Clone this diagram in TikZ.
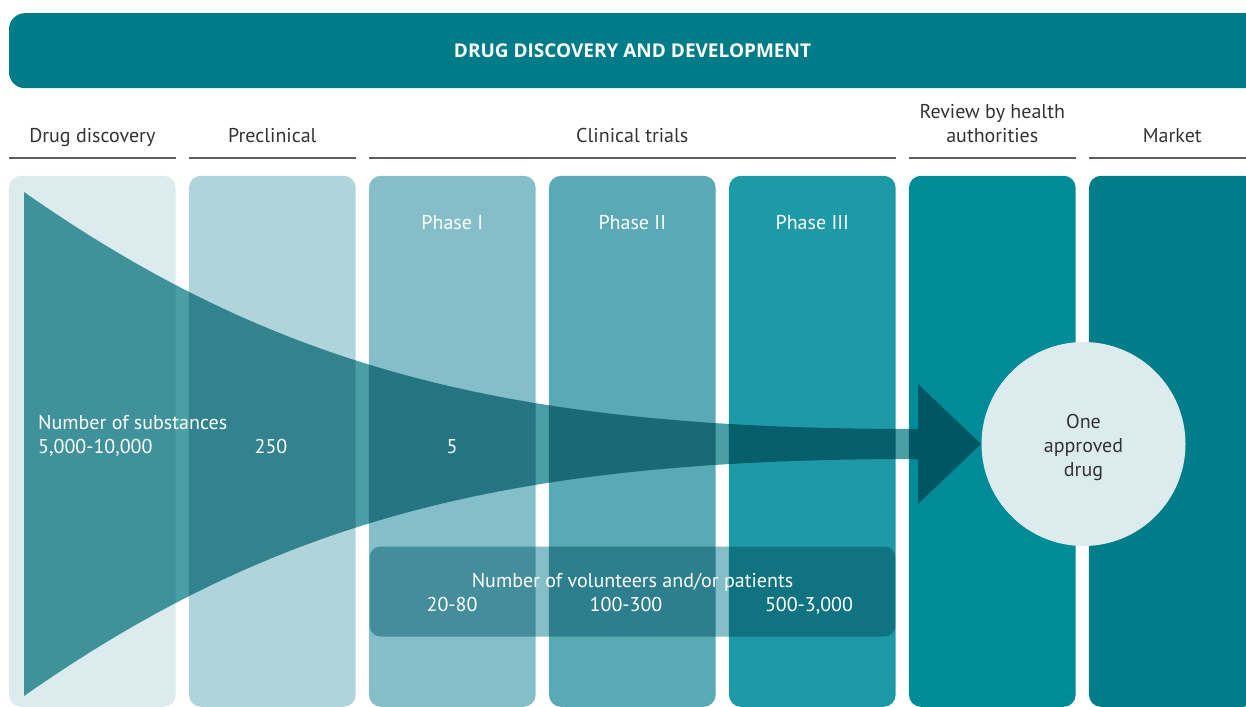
\documentclass[tikz,border=0pt]{standalone}
\usepackage{fontspec}
\setmainfont{PT Sans}
\newfontfamily\titlefont{Open Sans}
\usetikzlibrary{positioning}

\definecolor{banner}{HTML}{007C89}
\definecolor{stageA}{HTML}{DCEBEE}
\definecolor{stageB}{HTML}{AFD4DB}
\definecolor{stageC}{HTML}{84BEC8}
\definecolor{stageD}{HTML}{5AAAB5}
\definecolor{stageE}{HTML}{1E9AA7}
\definecolor{stageF}{HTML}{008B99}
\definecolor{stageG}{HTML}{007D89}
\definecolor{funnelc}{HTML}{4A9EA6}
\definecolor{crowdc}{HTML}{84BFC8}
\definecolor{inkgray}{HTML}{333333}
\definecolor{rulegray}{HTML}{5E5E5E}

\tikzset{
  stage/.style={rectangle, rounded corners=12pt, minimum width=166.7pt,
    minimum height=531pt, inner sep=0pt},
  multi/.style={font=\fontsize{20}{24}\selectfont, align=center},
  txt/.style={font=\fontsize{20}{24}\selectfont, text height=14pt, text depth=4pt},
  head/.style={txt, text=inkgray},
  rulebar/.style={draw=rulegray, line width=1.8pt},
  light/.style={txt, text=white, inner sep=1pt},
}

\begin{document}
\begin{tikzpicture}[x=1pt, y=-1pt]
    \useasboundingbox (0,0) rectangle (1246,706);
    \clip (0,0) rectangle (1246,706);

    % banner
    \node[fill=banner, rounded corners=16pt, minimum width=1260pt, minimum height=75pt,
      inner sep=0pt] (top) at (639,50.7) {};
    \node[text=white, font=\titlefont\bfseries\fontsize{19}{22}\selectfont]
      (title) at (632.5,50.5) {DRUG DISCOVERY AND DEVELOPMENT};

    % stages
    \node[stage, fill=stageA] (disc) at (92.3,441.3) {};
    \node[stage, fill=stageB] (pre)  at (272.3,441.3) {};
    \node[stage, fill=stageC] (ph1)  at (452.3,441.3) {};
    \node[stage, fill=stageD] (ph2)  at (632.3,441.3) {};
    \node[stage, fill=stageE] (ph3)  at (812.3,441.3) {};
    \node[stage, fill=stageF] (rev)  at (992.3,441.3) {};
    \node[stage, fill=stageG] (mkt)  at (1172.3,441.3) {};

    % header rules and labels
    \foreach \s in {disc,pre,rev,mkt}
      \draw[rulebar] ([yshift=18pt]\s.north west) -- ([yshift=18pt]\s.north east);
    \draw[rulebar] ([yshift=18pt]ph1.north west) -- ([yshift=18pt]ph3.north east);

    \node[head] (hdisc) at (92.3,137) {Drug discovery};
    \node[head] (hpre)  at (272.3,137) {Preclinical};
    \node[head] (hclin) at (632.3,137) {Clinical trials};
    \node[multi, text=inkgray] (hrev) at (992.3,124) {Review by health\\authorities};
    \node[head] (hmkt)  at (1172.3,137) {Market};

    \node[light] (lph1) at ([yshift=-49pt]ph1.north) {Phase I};
    \node[light] (lph2) at ([yshift=-49pt]ph2.north) {Phase II};
    \node[light] (lph3) at ([yshift=-49pt]ph3.north) {Phase III};

    % funnel and volunteers band
    \begin{scope}[blend mode=multiply]
      \fill[funnelc] (24,192) .. controls (284,374) and (520,429) .. (918,429)
        -- (918,384) -- (981,444) -- (918,504) -- (918,459)
        .. controls (520,459) and (284,514) .. (24,696) -- cycle;
      \node[fill=crowdc, rounded corners=11pt, minimum width=525.7pt,
        minimum height=90pt, inner sep=0pt] (crowd) at (632.5,591.5) {};
    \end{scope}

    \node[light, anchor=west] (nsub) at (37,424) {Number of substances};
    \node[light, anchor=west] (nA)   at (37,448) {5,000-10,000};
    \node[light] (nB) at (271,448) {250};
    \node[light] (nC) at (452,448) {5};

    \node[light] (ncrowd) at (632.5,582) {Number of volunteers and/or patients};
    \node[light] (vA) at (452,606) {20-80};
    \node[light] (vB) at (626,606) {100-300};
    \node[light] (vC) at (809,606) {500-3,000};

    % result
    \node[circle, fill=stageA, minimum size=204pt, inner sep=0pt] (drug) at (1083.5,444) {};
    \node[multi, text=inkgray] (drugtxt) at ([yshift=-3pt]drug.center)
      {One\\approved\\drug};
\end{tikzpicture}
\end{document}
